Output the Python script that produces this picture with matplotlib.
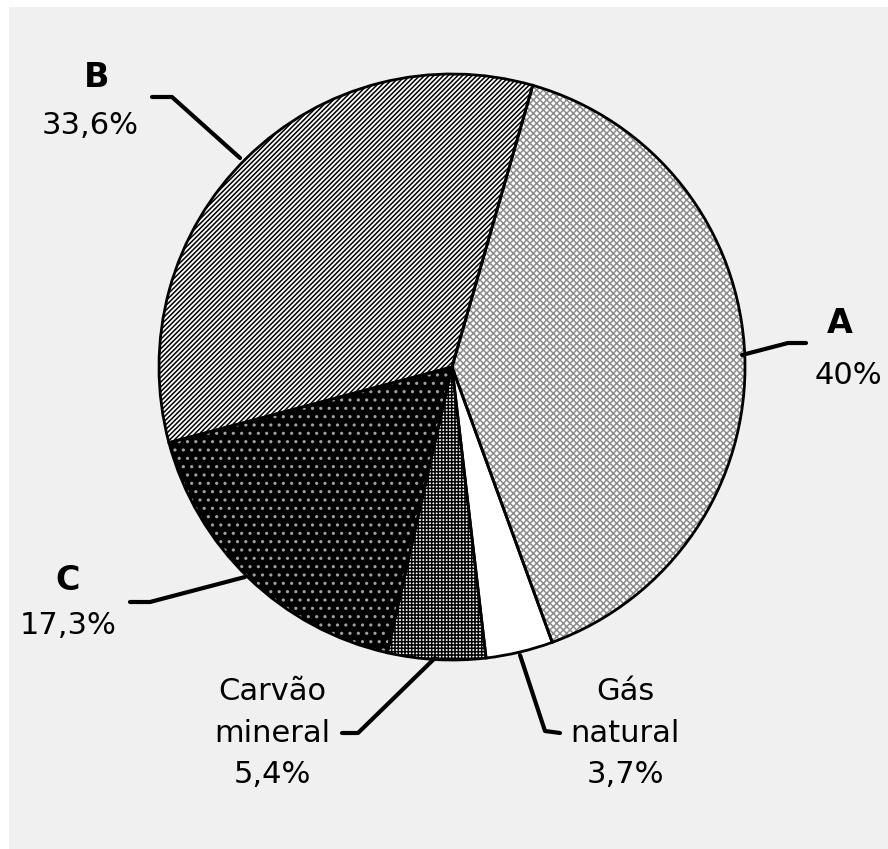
import matplotlib.pyplot as plt
from matplotlib.patches import Rectangle

# fatias do gráfico (sentido horário a partir do topo)
nomes = ['A', 'Gás natural', 'Carvão mineral', 'C', 'B']
valores = [40.0, 3.7, 5.4, 17.3, 33.6]
rotulos_pct = ['40%', '3,7%', '5,4%', '17,3%', '33,6%']

cores = ['white', 'white', 'white', 'black', 'white']
cores_hachura = ['#8c8c8c', 'white', 'black', '#a0a0a0', 'black']
hachuras = ['xxxxx', '', '+++++', '..', '///////']

W, H = 888, 849
fig = plt.figure(figsize=(W / 100, H / 100), dpi=100)
fig.patch.set_facecolor('white')
ax = fig.add_axes([0, 0, 1, 1])
ax.set_axis_off()

ax.add_patch(Rectangle((9, 0), W - 9, H - 7, facecolor='#f0f0f0', edgecolor='none', zorder=0))

centro = (452, H - 367)
raio = 293

# preenchimento com hachura
plt.rcParams['hatch.linewidth'] = 1.1
wedges, _ = ax.pie(valores, colors=cores, startangle=74, counterclock=False,
                   center=centro, radius=raio, frame=True,
                   wedgeprops=dict(linewidth=0))
for w, hc, h in zip(wedges, cores_hachura, hachuras):
    w.set_edgecolor(hc)
    w.set_hatch(h)
    w.set_zorder(1)

# contornos
contornos, _ = ax.pie(valores, colors=['none'] * 5, startangle=74, counterclock=False,
                      center=centro, radius=raio, frame=True,
                      wedgeprops=dict(linewidth=2.0, edgecolor='black', fill=False))
for w in contornos:
    w.set_zorder(2)

ax.set_xlim(0, W)
ax.set_ylim(0, H)
ax.set_aspect('equal')


def Y(y):
    return H - y


lw = 3.0
fs = 22
# linhas de chamada
ax.plot([152, 172, 240], [Y(97), Y(97), Y(158)], color='black', lw=lw, solid_capstyle='round', zorder=3)
ax.plot([742, 788, 806], [Y(355), Y(343), Y(343)], color='black', lw=lw, solid_capstyle='round', zorder=3)
ax.plot([130, 150, 245], [Y(602), Y(602), Y(577)], color='black', lw=lw, solid_capstyle='round', zorder=3)
ax.plot([342, 358, 435], [Y(733), Y(733), Y(658)], color='black', lw=lw, solid_capstyle='round', zorder=3)
ax.plot([520, 545, 560], [Y(655), Y(731), Y(733)], color='black', lw=lw, solid_capstyle='round', zorder=3)

# textos
ax.text(97, Y(77), nomes[4], ha='center', va='center', fontsize=fs + 2, fontweight='bold')
ax.text(90, Y(125), rotulos_pct[4], ha='center', va='center', fontsize=fs)
ax.text(840, Y(323), nomes[0], ha='center', va='center', fontsize=fs + 2, fontweight='bold')
ax.text(848, Y(375), rotulos_pct[0], ha='center', va='center', fontsize=fs)
ax.text(68, Y(580), nomes[3], ha='center', va='center', fontsize=fs + 2, fontweight='bold')
ax.text(68, Y(625), rotulos_pct[3], ha='center', va='center', fontsize=fs)
ax.text(272, Y(733), 'Carvão\nmineral\n' + rotulos_pct[2], ha='center', va='center',
        fontsize=fs, linespacing=1.55)
ax.text(625, Y(733), 'Gás\nnatural\n' + rotulos_pct[1], ha='center', va='center',
        fontsize=fs, linespacing=1.55)

fig.savefig('out.png', dpi=100, facecolor='white')
